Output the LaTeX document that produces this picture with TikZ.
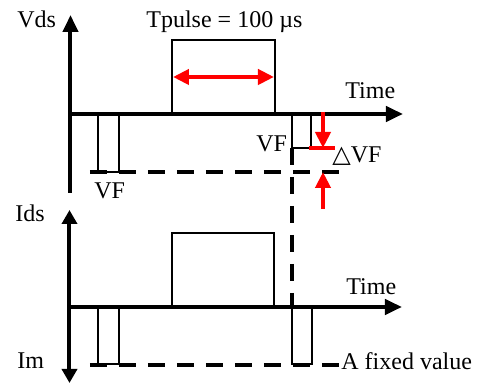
\documentclass[tikz,border=0pt]{standalone}
\usepackage{fontspec}
\setmainfont{Liberation Serif}
\newfontfamily\symfnt{DejaVu Sans}
\usetikzlibrary{arrows.meta}
\begin{document}
\begin{tikzpicture}[x=0.5pt,y=-0.5pt,
  axis/.style={line width=2pt,-{Triangle[length=8.5pt,width=7.5pt]}},
  axisboth/.style={line width=2pt,{Triangle[length=7pt,width=7.5pt]}-{Triangle[length=7pt,width=7.5pt]}},
  wave/.style={line width=1.1pt},
  dashline/.style={line width=2pt,dash pattern=on 8.5pt off 6pt},
  redarrow/.style={line width=2pt,red,-{Triangle[length=8pt,width=7.5pt]}},
  redboth/.style={line width=2pt,red,{Triangle[length=8pt,width=7.5pt]}-{Triangle[length=8pt,width=7.5pt]}},
  lbl/.style={inner sep=0pt,anchor=base west,font=\fontsize{12}{14}\selectfont}]
\useasboundingbox (0,0) rectangle (479,383);
% coordinates
\coordinate (vtop) at (70.5,15);
\coordinate (vbot) at (70.5,193);
\coordinate (t0) at (70.5,114);
\coordinate (t1) at (403,114);
\coordinate (itop) at (69.5,210);
\coordinate (ibot) at (69.5,383);
\coordinate (b0) at (69.5,307);
\coordinate (b1) at (402,307);
% axes
\draw[axis] (vbot) -- (vtop);
\draw[axis] (t0) -- (t1);
\draw[axisboth] (ibot) -- (itop);
\draw[axis] (b0) -- (b1);
% top waveform
\draw[wave] (172,114) -- (172,40) -- (275,40) -- (275,114);
\draw[wave] (98,114) -- (98,172) -- (119,172) -- (119,114);
\draw[wave] (292,114) -- (292,148) -- (311,148) -- (311,114);
% bottom waveform
\draw[wave] (172,307) -- (172,233) -- (274,233) -- (274,307);
\draw[wave] (98,307) -- (98,364) -- (119,364) -- (119,307);
\draw[wave] (292,307) -- (292,364) -- (312,364) -- (312,307);
% dashed levels
\coordinate (dl0) at (90,172);
\coordinate (dl1) at (340,172);
\coordinate (db0) at (90,365);
\coordinate (db1) at (340,365);
\coordinate (dv0) at (292,148);
\coordinate (dv1) at (292,307);
\draw[dashline] (dl0) -- (dl1);
\draw[dashline] (db0) -- (db1);
\draw[dashline] (dv0) -- (dv1);
% red marks
\coordinate (p0) at (173,77);
\coordinate (p1) at (274,77);
\draw[redboth] (p0) -- (p1);
\draw[line width=2pt,red] (309,148) -- (335,148);
\coordinate (ra0) at (323,112);
\coordinate (ra1) at (323,148);
\coordinate (rb0) at (323,209);
\coordinate (rb1) at (323,172);
\draw[redarrow] (ra0) -- (ra1);
\draw[redarrow] (rb0) -- (rb1);
% labels
\node[lbl] (vds) at (17,28) {Vds};
\node[lbl] (tp) at (146,28) {Tpulse = 100 µs};
\node[lbl] (time1) at (345,99) {Time};
\node[lbl] (vf1) at (256,152) {VF};
\node[lbl] (dvf) at (332,163) {{\symfnt △}VF};
\node[lbl] (vf0) at (94,199) {VF};
\node[lbl] (ids) at (15,222) {Ids};
\node[lbl] (time2) at (346,295) {Time};
\node[lbl] (im) at (17,369) {Im};
\node[lbl] (afv) at (341,370) {A fixed value};
\end{tikzpicture}
\end{document}
